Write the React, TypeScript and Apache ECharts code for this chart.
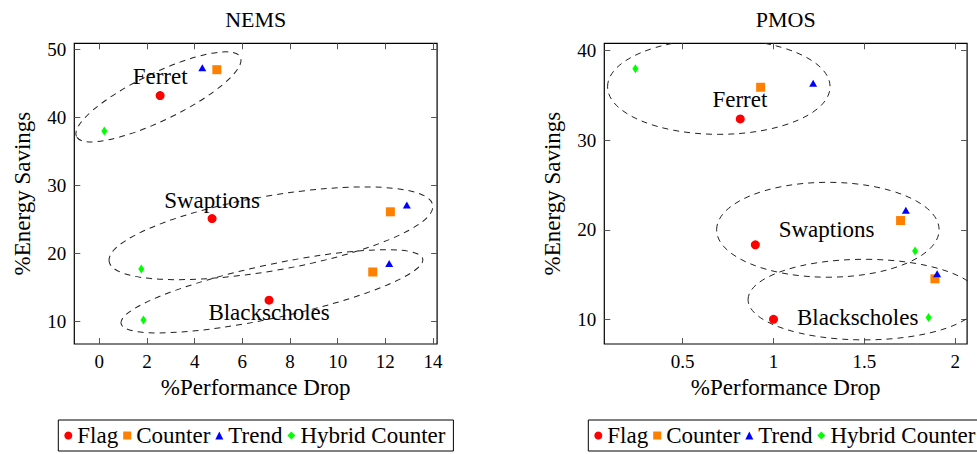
import React, { useEffect, useRef } from "react";
import * as echarts from "echarts";

// ---- Data ----
// Order of points in each series: Ferret, Swaptions, Blackscholes
const benchmarks = ["Ferret", "Swaptions", "Blackscholes"];
const seriesNames = ["Flag", "Counter", "Trend", "Hybrid Counter"];

// NEMS: [%Performance Drop, %Energy Savings]
const nemsFlag = [[2.55, 43.2], [4.73, 25.1], [7.12, 13.1]];
const nemsCounter = [[4.93, 47.0], [12.21, 26.1], [11.47, 17.25]];
const nemsTrend = [[4.32, 47.3], [12.9, 27.1], [12.16, 18.5]];
const nemsHybrid = [[0.21, 38.0], [1.76, 17.7], [1.85, 10.2]];

// PMOS
const pmosFlag = [[0.817, 32.38], [0.9, 18.32], [1.0, 10.0]];
const pmosCounter = [[0.929, 35.92], [1.699, 21.03], [1.888, 14.52]];
const pmosTrend = [[1.218, 36.36], [1.728, 22.19], [1.9, 15.1]];
const pmosHybrid = [[0.24, 38.0], [1.779, 17.64], [1.853, 10.2]];

// Group ellipses: [centerX, centerY, radiusX (x units), radiusY (y units), rotation deg]
const nemsEllipses = [
  [2.48, 43.0, 3.82, 3.47, 25.85],
  [7.2, 22.94, 6.89, 5.49, 9.9],
  [7.24, 14.41, 6.47, 3.93, 12.1],
];
const pmosEllipses = [
  [0.699, 35.98, 0.612, 5.32, 0],
  [1.299, 20.0, 0.612, 5.3, 0],
  [1.5, 12.2, 0.64, 4.5, 0],
];

// Group label anchors (data coords), in benchmark order
const nemsLabelPos = [[2.55, 45.97], [4.73, 27.74], [7.12, 11.26]];
const pmosLabelPos = [[0.815, 34.58], [1.292, 20.07], [1.463, 10.25]];

// Axis ranges and ticks
const nemsX = { min: -1.05, max: 14.17 };
const nemsY = { min: 6.66, max: 50.88 };
const nemsXTicks = [0, 2, 4, 6, 8, 10, 12, 14];
const nemsYTicks = [10, 20, 30, 40, 50];
const pmosX = { min: 0.069, max: 2.065 };
const pmosY = { min: 7.24, max: 40.83 };
const pmosXTicks = [0.5, 1, 1.5, 2];
const pmosYTicks = [10, 20, 30, 40];

const titles = ["NEMS", "PMOS"];
const xName = "%Performance Drop";
const yName = "%Energy Savings";

// ---- Styles ----
const FONT = "Liberation Serif";
const colors = ["#ff0000", "#ff8000", "#0000ff", "#00ff00"];
const symbols = ["circle", "rect", "triangle", "diamond"];
const symbolSizes: any[] = [9, 9, [8, 7], [6, 9]];

const gridLeft = [74.3, 604.3];
const gridTop = 43.3;
const gridW = 362.8;
const gridH = 300.7;

function axisPair(kind: "x" | "y", gridIndex: number, range: any, ticks: number[], name: string, title?: string) {
  const tickStyle = { show: true, inside: true, length: 6, customValues: ticks, lineStyle: { color: "#555", width: 1 } };
  const main: any = {
    type: "value",
    gridIndex,
    position: kind === "x" ? "bottom" : "left",
    min: range.min,
    max: range.max,
    axisLine: { show: false, onZero: false },
    axisTick: tickStyle,
    axisLabel: { customValues: ticks, margin: 8, fontFamily: FONT, fontSize: 19, color: "#000" },
    splitLine: { show: false },
    name,
    nameLocation: "middle",
    nameGap: kind === "x" ? 31 : 40,
    nameRotate: kind === "x" ? 0 : 90,
    nameTextStyle: { fontFamily: FONT, fontSize: 23, color: "#000" },
  };
  const mirror: any = {
    type: "value",
    gridIndex,
    position: kind === "x" ? "top" : "right",
    min: range.min,
    max: range.max,
    axisLine: { show: false, onZero: false },
    axisTick: tickStyle,
    axisLabel: { show: false },
    splitLine: { show: false },
  };
  if (title) {
    mirror.name = title;
    mirror.nameLocation = "middle";
    mirror.nameGap = 13;
    mirror.nameTextStyle = { fontFamily: FONT, fontSize: 22, color: "#000", verticalAlign: "bottom" };
  }
  return [main, mirror];
}

function ellipseSeries(data: number[][], axisIdx: number) {
  return {
    type: "custom",
    xAxisIndex: axisIdx,
    yAxisIndex: axisIdx,
    clip: true,
    silent: true,
    z: 1,
    encode: { x: 0, y: 1 },
    data,
    renderItem: (params: any, api: any) => {
      const c = api.coord([api.value(0), api.value(1)]);
      const s = api.size([api.value(2), api.value(3)]);
      const ang = (api.value(4) * Math.PI) / 180;
      return {
        type: "ellipse",
        x: c[0],
        y: c[1],
        rotation: ang,
        shape: { cx: 0, cy: 0, rx: s[0], ry: s[1] },
        style: { fill: "none", stroke: "#222", lineWidth: 1, lineDash: [6, 5] },
      };
    },
  };
}

function labelSeries(pos: number[][], axisIdx: number) {
  return {
    type: "custom",
    xAxisIndex: axisIdx,
    yAxisIndex: axisIdx,
    silent: true,
    z: 3,
    encode: { x: 0, y: 1 },
    data: pos,
    renderItem: (params: any, api: any) => {
      const c = api.coord([api.value(0), api.value(1)]);
      return {
        type: "text",
        x: c[0],
        y: c[1],
        style: {
          text: benchmarks[params.dataIndex],
          fontFamily: FONT,
          fontSize: 23,
          fill: "#000",
          align: "center",
          verticalAlign: "middle",
        },
      };
    },
  };
}

function pointSeries(sets: number[][][], axisIdx: number) {
  return sets.map((d, i) => ({
    type: "scatter",
    name: seriesNames[i],
    xAxisIndex: axisIdx,
    yAxisIndex: axisIdx,
    symbol: symbols[i],
    symbolSize: symbolSizes[i],
    itemStyle: { color: colors[i], opacity: 1 },
    z: 2,
    data: d,
  }));
}

function legend(left: number) {
  return {
    left,
    top: 420,
    width: 420,
    orient: "horizontal",
    selectedMode: false,
    padding: [4, 8, 4, 6],
    borderColor: "#000",
    borderWidth: 1,
    itemGap: 5,
    itemWidth: 8,
    itemHeight: 8,
    textStyle: { fontFamily: FONT, fontSize: 23, color: "#000" },
    data: seriesNames.map((n, i) => ({ name: n, icon: symbols[i] })),
  };
}

export default function App() {
  const ref = useRef<HTMLDivElement>(null);
  useEffect(() => {
    if (!ref.current) return;
    const chart = echarts.init(ref.current, undefined, { renderer: "svg" });
    const nx = axisPair("x", 0, nemsX, nemsXTicks, xName, titles[0]);
    const ny = axisPair("y", 0, nemsY, nemsYTicks, yName);
    const px = axisPair("x", 1, pmosX, pmosXTicks, xName, titles[1]);
    const py = axisPair("y", 1, pmosY, pmosYTicks, yName);
    chart.setOption({
      animation: false,
      backgroundColor: "#fff",
      legend: [legend(58.3), legend(588.3)],
      grid: gridLeft.map((l) => ({
        left: l,
        top: gridTop,
        width: gridW,
        height: gridH,
        show: true,
        borderColor: "#000",
        borderWidth: 1.2,
        backgroundColor: "transparent",
      })),
      xAxis: [nx[0], nx[1], px[0], px[1]],
      yAxis: [ny[0], ny[1], py[0], py[1]],
      series: [
        ellipseSeries(nemsEllipses, 0),
        ellipseSeries(pmosEllipses, 2),
        ...pointSeries([nemsFlag, nemsCounter, nemsTrend, nemsHybrid], 0),
        ...pointSeries([pmosFlag, pmosCounter, pmosTrend, pmosHybrid], 2),
        labelSeries(nemsLabelPos, 0),
        labelSeries(pmosLabelPos, 2),
      ],
    });
    return () => chart.dispose();
  }, []);
  return (
    <div
      ref={ref}
      style={{ position: "fixed", left: 0, top: 0, width: 977, height: 454 }}
    />
  );
}
